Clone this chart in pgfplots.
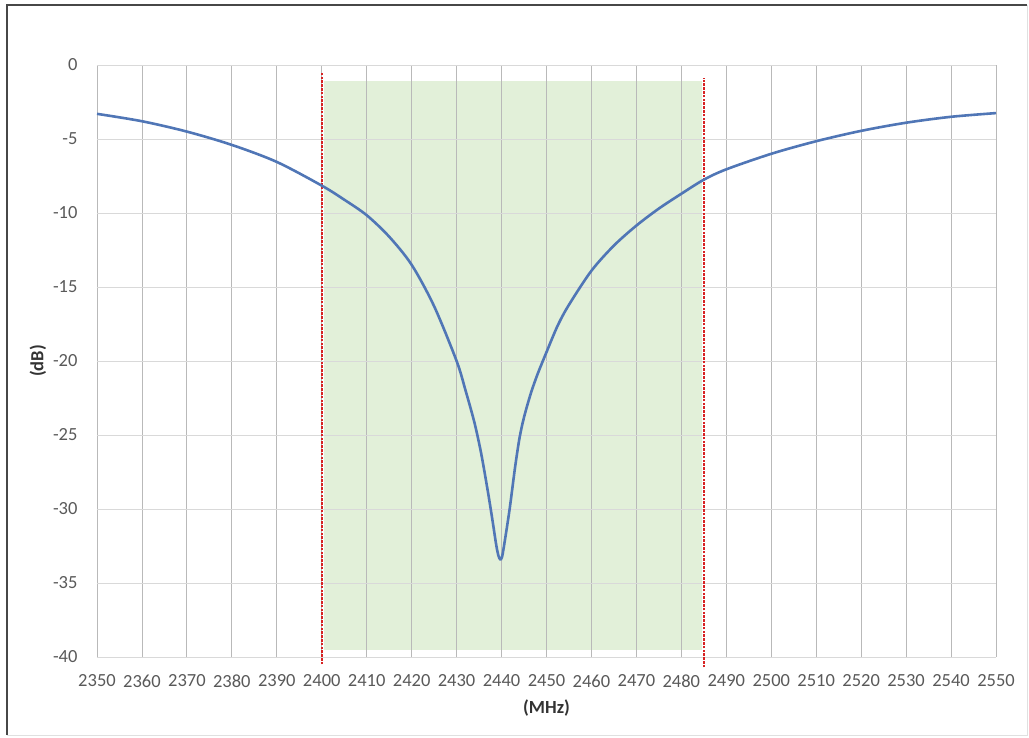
\documentclass[border=0pt]{standalone}
\usepackage{fontspec}
\setmainfont{Carlito}
\usepackage{pgfplots}
\pgfplotsset{compat=1.18}
\definecolor{curve}{RGB}{80,118,182}
\definecolor{band}{RGB}{226,240,217}
\definecolor{vgrid}{RGB}{185,185,185}
\definecolor{hgrid}{RGB}{217,217,217}
\definecolor{ticklab}{RGB}{89,89,89}
\definecolor{bandline}{RGB}{215,35,35}
\begin{document}
\begin{tikzpicture}[x=1pt,y=1pt]
\begin{axis}[
  at={(0,0)}, anchor=south west,
  scale only axis, width=899pt, height=592pt,
  set layers,
  xmin=2350, xmax=2550, ymin=-40, ymax=0,
  xtick={2350,2360,...,2550},
  ytick={-40,-35,...,0},
  xmajorgrids, ymajorgrids,
  x grid style={vgrid, line width=0.9pt},
  y grid style={hgrid, line width=0.9pt},
  axis line style={draw=none},
  major tick length=0pt,
  clip=false,
  /pgf/number format/assume math mode=true,
  /pgf/number format/set thousands separator={},
  ticklabel style={font=\fontsize{18.5}{21}\selectfont, text=ticklab},
  xticklabel style={anchor=center, yshift=-24pt},
  yticklabel style={anchor=east, xshift=-16pt},
  xlabel={(MHz)}, ylabel={(dB)},
  label style={font=\bfseries\fontsize{18.5}{21}\selectfont, text=black!80},
  xlabel style={at={(axis description cs:0.5,-0.0861)}, anchor=center},
  ylabel style={at={(axis description cs:-0.0656,0.5)}, anchor=center},
]
\addplot[fill=band, draw=none, on layer=axis background] coordinates {
  (2400.6,-39.5) (2484.5,-39.5) (2484.5,-1.1) (2400.6,-1.1)} -- cycle;
\addplot[bandline, line width=1.5pt, dash pattern=on 2.5pt off 1.3pt] coordinates {(2400,-40.5) (2400,-0.5)};
\addplot[bandline, line width=1.5pt, dash pattern=on 2.5pt off 1.3pt] coordinates {(2485,-40.7) (2485,-0.9)};
\addplot[curve, line width=2.6pt, smooth, tension=0.5] coordinates {
(2350,-3.3) (2360,-3.8) (2370,-4.5) (2380,-5.4) (2390,-6.55) (2400,-8.15)
(2405,-9.1) (2410,-10.15) (2415,-11.6) (2420,-13.5) (2425,-16.3)
(2430,-20.0) (2432,-22.0) (2434,-24.2) (2435.5,-26.3) (2437,-28.9) (2438,-30.8)
(2438.8,-32.4) (2439.3,-33.15) (2439.7,-33.4) (2440.1,-33.25) (2440.7,-32.2)
(2441.8,-30.0) (2443,-27.2) (2444,-25.2) (2445,-23.8) (2446.5,-22.2) (2448,-20.9)
(2450,-19.4) (2452.5,-17.6) (2455,-16.2) (2460,-13.9) (2465,-12.2) (2470,-10.85)
(2475,-9.7) (2480,-8.7) (2485,-7.75) (2490,-7.05) (2500,-6.0) (2510,-5.15)
(2520,-4.45) (2530,-3.9) (2540,-3.5) (2550,-3.25)
};
\end{axis}
\draw[line width=1.6pt, black!72] (-90,-78) -- (-90,652) -- (930,652);
\draw[line width=0.8pt, black!12] (930,652) -- (930,-78) -- (-90,-78);
\pgfresetboundingbox
\path[use as bounding box] (-97,-80) rectangle (932,657);
\end{tikzpicture}
\end{document}
